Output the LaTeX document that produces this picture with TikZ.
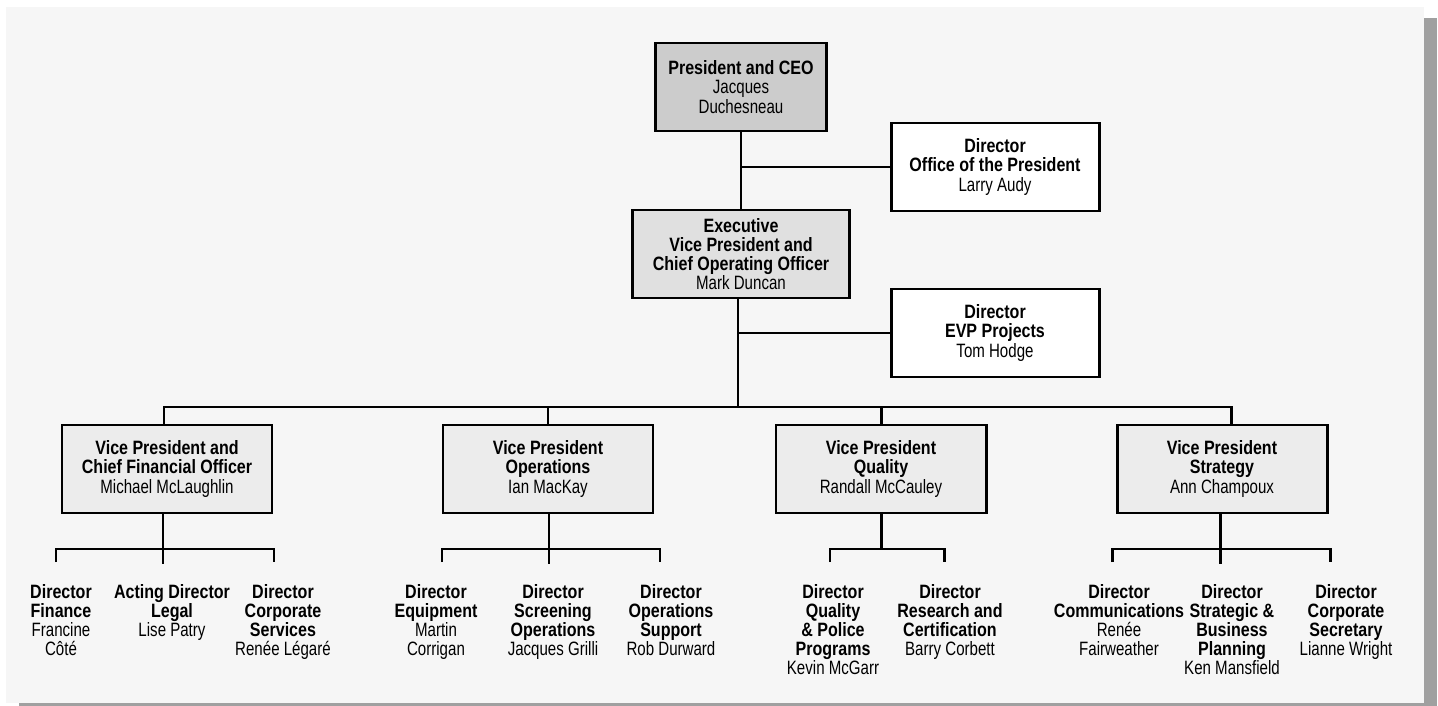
\documentclass[tikz,border=0pt]{standalone}
\usepackage{fontspec}
\setmainfont{Liberation Sans}[FakeStretch=0.78,BoldFeatures={FakeStretch=0.83}]
\usetikzlibrary{positioning,calc}
\definecolor{panel}{HTML}{F6F6F6}
\definecolor{shadowgray}{HTML}{A0A0A0}
\definecolor{ceogray}{HTML}{CCCCCC}
\definecolor{evpgray}{HTML}{E0E0E0}
\definecolor{vpgray}{HTML}{ECECEC}

\begin{document}
\begin{tikzpicture}[x=0.02cm,y=-0.02cm,
	box/.style={draw,line width=1.7pt,align=center,inner sep=0pt,minimum height=88*0.02cm,font=\fontsize{11}{10.9}\selectfont},
	vpbox/.style={box,fill=vpgray,minimum width=210*0.02cm},
	dirbox/.style={box,fill=white,minimum width=208*0.02cm},
	director/.style={align=center,inner sep=0pt,anchor=north,font=\fontsize{11}{10.9}\selectfont},
	link/.style={line width=1.7pt}]
	\useasboundingbox (0,0) rectangle (1438,706);
	\fill[white] (0,0) rectangle (1438,706);
	\fill[shadowgray] (1424,18) rectangle (1437,706);
	\fill[shadowgray] (19,703) rectangle (1424,706);
	\fill[panel] (6,7) rectangle (1424,703);

	\node[box,fill=ceogray,minimum width=171*0.02cm] at (741,87) (ceo) {\textbf{President and CEO}\\Jacques\\Duchesneau};
	\node[box,fill=evpgray,minimum width=217*0.02cm] at (741,254) (evp) {\textbf{Executive}\\\textbf{Vice President and}\\\textbf{Chief Operating Officer}\\Mark Duncan};
	\node[dirbox] at (995,167) (office) {\textbf{Director}\\\textbf{Office of the President}\\Larry Audy};
	\node[dirbox] at (995,333) (projects) {\textbf{Director}\\\textbf{EVP Projects}\\Tom Hodge};

	\node[vpbox] at (167,469) (vp1) {\textbf{Vice President and}\\\textbf{Chief Financial Officer}\\Michael McLaughlin};
	\node[vpbox] at (548,469) (vp2) {\textbf{Vice President}\\\textbf{Operations}\\Ian MacKay};
	\node[vpbox] at (881,469) (vp3) {\textbf{Vice President}\\\textbf{Quality}\\Randall McCauley};
	\node[vpbox] at (1222,469) (vp4) {\textbf{Vice President}\\\textbf{Strategy}\\Ann Champoux};

	\node[director] at (61,584) (d11) {\textbf{Director}\\\textbf{Finance}\\Francine\\Côté};
	\node[director] at (172,584) (d12) {\textbf{Acting Director}\\\textbf{Legal}\\Lise Patry};
	\node[director] at (283,584) (d13) {\textbf{Director}\\\textbf{Corporate}\\\textbf{Services}\\Renée Légaré};
	\node[director] at (436,584) (d21) {\textbf{Director}\\\textbf{Equipment}\\Martin\\Corrigan};
	\node[director] at (553,584) (d22) {\textbf{Director}\\\textbf{Screening}\\\textbf{Operations}\\Jacques Grilli};
	\node[director] at (671,584) (d23) {\textbf{Director}\\\textbf{Operations}\\\textbf{Support}\\Rob Durward};
	\node[director] at (833,584) (d31) {\textbf{Director}\\\textbf{Quality}\\\textbf{\& Police}\\\textbf{Programs}\\Kevin McGarr};
	\node[director] at (950,584) (d32) {\textbf{Director}\\\textbf{Research and}\\\textbf{Certification}\\Barry Corbett};
	\node[director] at (1119,584) (d41) {\textbf{Director}\\\textbf{Communications}\\Renée\\Fairweather};
	\node[director] at (1232,584) (d42) {\textbf{Director}\\\textbf{Strategic \&}\\\textbf{Business}\\\textbf{Planning}\\Ken Mansfield};
	\node[director] at (1346,584) (d43) {\textbf{Director}\\\textbf{Corporate}\\\textbf{Secretary}\\Lianne Wright};

	% top of the chart
	\draw[link] (ceo.south) -- (ceo.south |- evp.north);
	\draw[link] (office.west) -- (office.west -| ceo.south);
	\coordinate (bus) at (738,407);
	\draw[link] (evp.south -| bus) -- (bus);
	\draw[link] (projects.west) -- (projects.west -| bus);
	\draw[link] ([xshift=-0.06cm]vp1.north) -- ([xshift=-0.06cm]vp1.north |- bus) -| ([xshift=0.18cm]vp4.north);
	\draw[link] (vp2.north) -- (vp2.north |- bus);
	\draw[link] (vp3.north) -- (vp3.north |- bus);

	% directors
	\foreach \g/\a/\b/\c in {1/56/163/274, 2/442/549/660, 4/1112/1220/1330} {
		\coordinate (t\g1) at (\a,562);
		\coordinate (t\g2) at (\b,564);
		\coordinate (t\g3) at (\c,562);
		\draw[link] (t\g1) -- ++(0,-13) -| (t\g3);
		\draw[link] (vp\g.south -| t\g2) -- (t\g2);
	}
	\coordinate (t31) at (830,562);
	\coordinate (t32) at (944,562);
	\draw[link] (t31) -- ++(0,-13) -| (t32);
	\draw[link] (vp3.south) -- ++(0,36);
\end{tikzpicture}
\end{document}
